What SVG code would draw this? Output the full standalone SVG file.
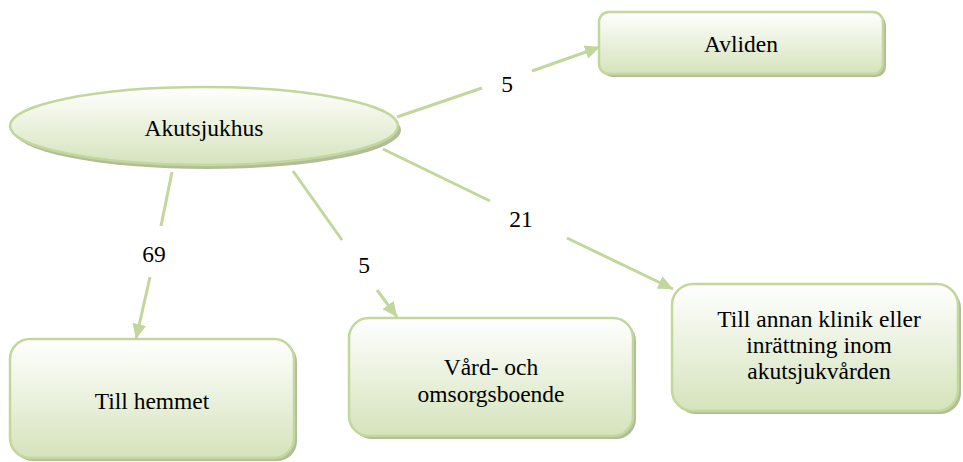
<svg xmlns="http://www.w3.org/2000/svg" width="963" height="462" viewBox="0 0 963 462" font-family="'Liberation Serif', 'Times New Roman', 'DejaVu Serif', serif">
  <defs>
    <linearGradient id="g" x1="0" y1="0" x2="0" y2="1">
      <stop offset="0" stop-color="#ffffff"/>
      <stop offset="1" stop-color="#d5e3bb"/>
    </linearGradient>
    <marker id="ah" markerUnits="userSpaceOnUse" markerWidth="16" markerHeight="14" refX="15" refY="7" orient="auto">
      <path d="M0,0 L15,7 L0,14 z" fill="#c3d69b"/>
    </marker>
    <style>
      .shape { fill: url(#g); stroke: #c3d69b; stroke-width: 2.5; }
      .shadow { fill: #a3b287; opacity: 0.85; }
      .t { font-family: 'Liberation Serif', 'Times New Roman', 'DejaVu Serif', serif; font-size: 23.5px; fill: #000; text-anchor: middle; }
      .c { stroke: #c3d69b; stroke-width: 3; fill: none; }
    </style>
  </defs>
  <rect width="963" height="462" fill="#ffffff"/>

  <g id="connectors">
    <line class="c" x1="397" y1="117" x2="482" y2="88"/>
    <line class="c" x1="532" y1="71" x2="600" y2="47" marker-end="url(#ah)"/>
    <text class="t" x="507" y="92">5</text>

    <line class="c" x1="383" y1="149" x2="490" y2="201"/>
    <line class="c" x1="567" y1="238" x2="673" y2="289" marker-end="url(#ah)"/>
    <text class="t" x="521" y="227">21</text>

    <line class="c" x1="172" y1="172" x2="161" y2="226"/>
    <line class="c" x1="150" y1="277" x2="136" y2="339" marker-end="url(#ah)"/>
    <text class="t" x="154" y="262">69</text>

    <line class="c" x1="293" y1="171" x2="342" y2="240"/>
    <line class="c" x1="377" y1="290" x2="397" y2="317" marker-end="url(#ah)"/>
    <text class="t" x="364" y="273">5</text>
  </g>

  <g id="akutsjukhus">
    <ellipse class="shadow" cx="207" cy="130" rx="194" ry="39"/>
    <ellipse class="shape" cx="204" cy="126" rx="194" ry="39"/>
    <text class="t" x="204" y="136">Akutsjukhus</text>
  </g>

  <g id="avliden">
    <rect class="shadow" x="602" y="15" width="284" height="62" rx="10"/>
    <rect class="shape" x="599" y="12" width="284" height="62" rx="10"/>
    <text class="t" x="741" y="52">Avliden</text>
  </g>

  <g id="till-hemmet">
    <rect class="shadow" x="13" y="342" width="284" height="119" rx="20"/>
    <rect class="shape" x="10" y="339" width="284" height="119" rx="20"/>
    <text class="t" x="152" y="409">Till hemmet</text>
  </g>

  <g id="vard-omsorg">
    <rect class="shadow" x="352" y="321" width="284" height="118" rx="20"/>
    <rect class="shape" x="349" y="318" width="284" height="118" rx="20"/>
    <text class="t" x="491" y="375">Vård- och</text>
    <text class="t" x="491" y="402">omsorgsboende</text>
  </g>

  <g id="annan-klinik">
    <rect class="shadow" x="675" y="287" width="286" height="127" rx="21"/>
    <rect class="shape" x="672" y="284" width="286" height="127" rx="21"/>
    <text class="t" x="819" y="327">Till annan klinik eller</text>
    <text class="t" x="819" y="353">inrättning inom</text>
    <text class="t" x="819" y="379">akutsjukvården</text>
  </g>
</svg>
